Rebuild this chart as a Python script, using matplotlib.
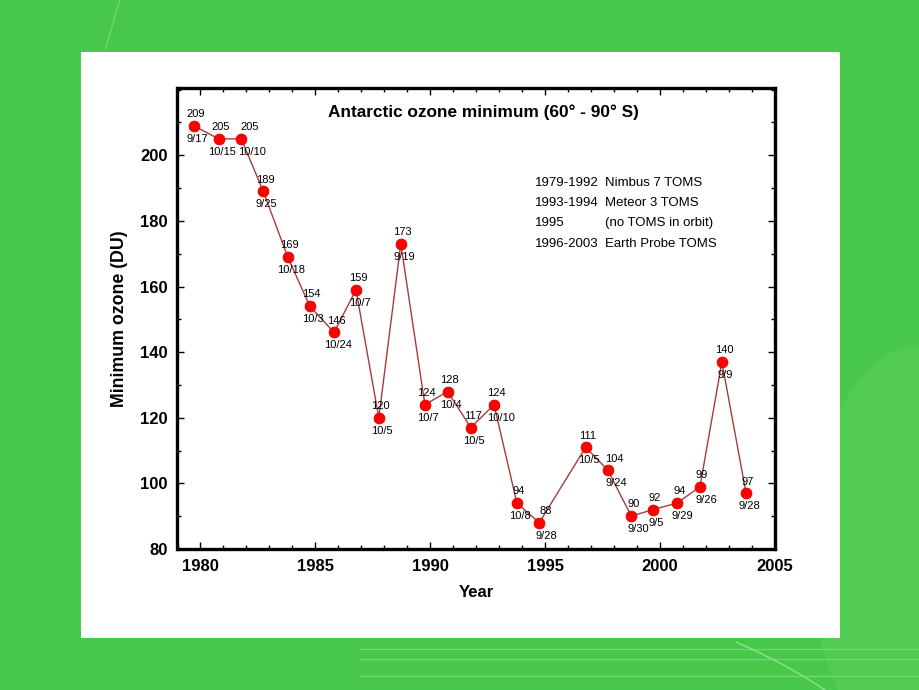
import datetime as dt
import matplotlib
matplotlib.use("Agg")
import matplotlib.pyplot as plt
from matplotlib.patches import Rectangle, Ellipse, Arc
from matplotlib.lines import Line2D

# ---------------- data ----------------
years = [1979, 1980, 1981, 1982, 1983, 1984, 1985, 1986, 1987, 1988, 1989,
         1990, 1991, 1992, 1993, 1994, 1996, 1997, 1998, 1999, 2000, 2001,
         2002, 2003]
dates = ["9/17", "10/15", "10/10", "9/25", "10/18", "10/3", "10/24", "10/7",
         "10/5", "9/19", "10/7", "10/4", "10/5", "10/10", "10/8", "9/28",
         "10/5", "9/24", "9/30", "9/5", "9/29", "9/26", "9/9", "9/28"]
# marker heights
ozone_min = [209, 205, 205, 189, 169, 154, 146, 159, 120, 173, 124,
             128, 117, 124, 94, 88, 111, 104, 90, 92, 94, 99, 137, 97]
# printed value labels
value_labels = ["209", "205", "205", "189", "169", "154", "146", "159", "120",
                "173", "124", "128", "117", "124", "94", "88", "111", "104",
                "90", "92", "94", "99", "140", "97"]
instrument_years = ["1979-1992", "1993-1994", "1995", "1996-2003"]
instrument_names = ["Nimbus 7 TOMS", "Meteor 3 TOMS", "(no TOMS in orbit)",
                    "Earth Probe TOMS"]
x_ticks = [1980, 1985, 1990, 1995, 2000, 2005]
y_ticks = [80, 100, 120, 140, 160, 180, 200]


def decimal_year(y, md):
    m, d = (int(v) for v in md.split("/"))
    doy = dt.date(y, m, d).timetuple().tm_yday
    ndays = 366 if (y % 4 == 0) else 365
    return y + (doy - 0.5) / ndays


xs = [decimal_year(y, d) for y, d in zip(years, dates)]

# ---------------- figure ----------------
FONT = "Liberation Sans"
fig = plt.figure(figsize=(9.2, 6.9), dpi=100)
fig.patch.set_facecolor("#48c84a")

# decorative background
fig.add_artist(Ellipse((1.0, 0.2), 0.24, 0.6, transform=fig.transFigure,
                       facecolor="#62d262", edgecolor="none", alpha=0.35, zorder=0))
for yy in [0.06, 0.045, 0.02]:
    fig.add_artist(Line2D([0.39, 1.0], [yy, yy], transform=fig.transFigure,
                          color="#8fe08f", lw=0.8, alpha=0.7, zorder=0))
fig.add_artist(Arc((0.5, -0.45), 1.2, 1.2, theta1=20, theta2=60,
                   transform=fig.transFigure, color="#8fe08f", lw=1.0, zorder=0))
fig.add_artist(Line2D([0.115, 0.13], [0.93, 1.0], transform=fig.transFigure,
                      color="#7ad87a", lw=0.8, zorder=0))

# white panel
fig.add_artist(Rectangle((81 / 920, 1 - 638 / 690), (840 - 81) / 920,
                         (638 - 52) / 690, transform=fig.transFigure,
                         facecolor="white", edgecolor="none", zorder=1))

ax = fig.add_axes([177.5 / 920, 1 - 549 / 690, 597.5 / 920, 461 / 690])
ax.set_zorder(2)
ax.set_facecolor("white")

ax.plot(xs, ozone_min, color="#a63c3c", lw=1.0, zorder=3)
ax.plot(xs, ozone_min, linestyle="none", marker="o", markersize=7.8,
        markerfacecolor="#ff0000", markeredgecolor="#e00000",
        markeredgewidth=0.6, zorder=4)

# label nudges (pixels) for a few crowded points
val_dx = {1981: 8, 1994: 7, 1997: 6}
date_dx = {1981: 11, 1994: 7, 1997: 8, 1998: 7, 1992: 7, 2001: 6, 2000: 5}
px = 0.72
for x, y, yr, v, d in zip(xs, ozone_min, years, value_labels, dates):
    ax.annotate(v, (x, y), xytext=(val_dx.get(yr, 2) * px, 11.7 * px),
                textcoords="offset points", ha="center", va="center",
                fontsize=8, family=FONT, color="black", zorder=5)
    ax.annotate(d, (x, y), xytext=(date_dx.get(yr, 3.5) * px, -13 * px),
                textcoords="offset points", ha="center", va="center",
                fontsize=8, family=FONT, color="black", zorder=5)

ax.set_xlim(1979, 2005)
ax.set_ylim(80, 220.5)
ax.set_xticks(x_ticks)
ax.set_xticks(range(1979, 2006), minor=True)
ax.set_yticks(y_ticks)
ax.set_yticks(range(80, 221, 10), minor=True)
ax.tick_params(which="both", direction="in", top=True, right=True,
               color="black")
ax.tick_params(which="major", length=5, width=1.0, labelsize=12, pad=7)
ax.tick_params(which="minor", length=3, width=1.0)
for lab in ax.get_xticklabels() + ax.get_yticklabels():
    lab.set_fontfamily(FONT)
    lab.set_fontweight("bold")
for s in ax.spines.values():
    s.set_linewidth(2.4)
    s.set_color("black")

ax.set_xlabel("Year", fontsize=12, fontweight="bold", family=FONT, labelpad=8)
ax.set_ylabel("Minimum ozone (DU)", fontsize=12.8, fontweight="bold",
              family=FONT, labelpad=9)

ax.text(0.512, 0.948, "Antarctic ozone minimum (60° - 90° S)",
        transform=ax.transAxes, ha="center", va="center", fontsize=12.4,
        fontweight="bold", family=FONT)

rows_y = [0.794, 0.751, 0.707, 0.662]
for ry, a, b in zip(rows_y, instrument_years, instrument_names):
    ax.text(0.599, ry, a, transform=ax.transAxes, ha="left", va="center",
            fontsize=9.5, family=FONT)
    ax.text(0.716, ry, b, transform=ax.transAxes, ha="left", va="center",
            fontsize=9.5, family=FONT)

fig.savefig("out.png", dpi=100, facecolor=fig.get_facecolor())
